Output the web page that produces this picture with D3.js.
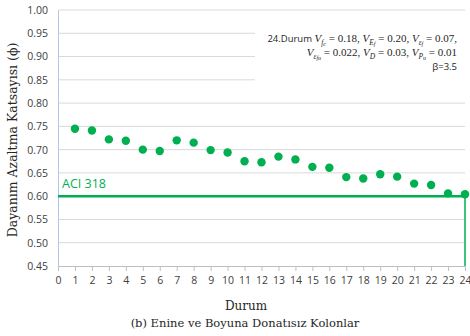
<!DOCTYPE html>
<html>
<head>
<meta charset="utf-8">
<script src="https://cdn.jsdelivr.net/npm/d3@7"></script>
<style>
  html, body { margin: 0; padding: 0; background: #fff; }
  svg { display: block; }
</style>
</head>
<body>
<svg id="chart" width="470" height="336"></svg>
<script>
// Durum numbers (cases) and their strength reduction factors
const durum = [1, 2, 3, 4, 5, 6, 7, 8, 9, 10, 11, 12, 13, 14, 15, 16, 17, 18, 19, 20, 21, 22, 23, 24];
const phi = [0.745, 0.741, 0.722, 0.719, 0.700, 0.697, 0.720, 0.715, 0.699, 0.694,
             0.675, 0.673, 0.685, 0.679, 0.663, 0.661, 0.641, 0.638, 0.647, 0.642,
             0.627, 0.624, 0.606, 0.604];
const xTicks = d3.range(0, 25, 1);
const yTicks = [0.45, 0.50, 0.55, 0.60, 0.65, 0.70, 0.75, 0.80, 0.85, 0.90, 0.95, 1.00];
const aciLimit = 0.60;
const aciLabel = "ACI 318";
const lastCase = 24;

const svg = d3.select("#chart");
const m = { left: 58, right: 465, top: 10, bottom: 266 };

const x = d3.scaleLinear().domain([0, 24]).range([m.left, m.right]);
const y = d3.scaleLinear().domain([0.45, 1.00]).range([m.bottom, m.top]);

const green = "#00b050";
const sans = "'Open Sans', 'Noto Sans', sans-serif";
const serif = "'DejaVu Serif', 'Liberation Serif', serif";

// horizontal gridlines
svg.append("g")
  .selectAll("line")
  .data(yTicks.filter(v => v > 0.45))
  .join("line")
  .attr("x1", m.left).attr("x2", m.right)
  .attr("y1", d => y(d)).attr("y2", d => y(d))
  .attr("stroke", "#d9d9d9").attr("stroke-width", 1);

// y axis
const yAxis = svg.append("g")
  .attr("transform", `translate(${m.left},0)`)
  .call(d3.axisLeft(y).tickValues(yTicks).tickFormat(d3.format(".2f")).tickSize(0).tickPadding(10));
yAxis.select(".domain").attr("stroke", "#b4c7e7");
yAxis.selectAll("text").attr("font-family", sans).attr("font-size", 10.5).attr("fill", "#404040");

// x axis
const xAxis = svg.append("g")
  .attr("transform", `translate(0,${m.bottom})`)
  .call(d3.axisBottom(x).tickValues(xTicks).tickFormat(d3.format("d")).tickSize(5).tickSizeOuter(0).tickPadding(6));
xAxis.select(".domain").attr("stroke", "#bfbfbf");
xAxis.selectAll(".tick line").attr("stroke", "#bfbfbf");
xAxis.selectAll("text").attr("font-family", sans).attr("font-size", 10.5).attr("fill", "#404040");

// annotation block (white background hides gridlines behind it)
svg.append("rect")
  .attr("x", 255).attr("y", 28).attr("width", 212).attr("height", 56)
  .attr("fill", "#fff");

const note = svg.append("g")
  .attr("font-family", "'Liberation Serif', serif")
  .attr("font-size", 11)
  .attr("fill", "#262626")
  .attr("text-anchor", "end");

function addV(t, sub, sub2) {
  t.append("tspan").attr("font-style", "italic").text("V");
  t.append("tspan").attr("font-style", "italic").attr("font-size", 7.5).attr("dy", 2.5).text(sub);
  let back = -2.5;
  if (sub2) {
    t.append("tspan").attr("font-style", "italic").attr("font-size", 6).attr("dy", 1.5).text(sub2);
    back = -4;
  }
  return back;
}
function addVal(t, back, txt) {
  t.append("tspan").attr("dy", back).text(txt);
}

const l1 = note.append("text").attr("x", 457).attr("y", 42);
l1.append("tspan").attr("font-family", sans).attr("font-size", 9.5).text("24.Durum  ");
addVal(l1, addV(l1, "f", "c"), " = 0.18, ");
addVal(l1, addV(l1, "E", "f"), " = 0.20, ");
addVal(l1, addV(l1, "ε", "f"), " = 0.07,");

const l2 = note.append("text").attr("x", 457).attr("y", 56);
addVal(l2, addV(l2, "ε", "fu"), " = 0.022, ");
addVal(l2, addV(l2, "D"), " = 0.03, ");
addVal(l2, addV(l2, "P", "u"), " = 0.01");

note.append("text").attr("x", 457).attr("y", 70)
  .attr("font-family", sans).attr("font-size", 9.5).text("β=3.5");

// ACI 318 limit
svg.append("line")
  .attr("x1", x(lastCase)).attr("x2", x(lastCase))
  .attr("y1", y(aciLimit)).attr("y2", y(0.45))
  .attr("stroke", "#3cc47c").attr("stroke-width", 2);
svg.append("line")
  .attr("x1", m.left).attr("x2", x(lastCase))
  .attr("y1", y(aciLimit)).attr("y2", y(aciLimit))
  .attr("stroke", green).attr("stroke-width", 2.6);
svg.append("text")
  .attr("x", 62).attr("y", y(aciLimit) - 8)
  .attr("font-family", sans).attr("font-size", 12.5)
  .attr("fill", green).text(aciLabel);

// data points
svg.append("g")
  .selectAll("circle")
  .data(durum.map((d, i) => ({ d, v: phi[i] })))
  .join("circle")
  .attr("cx", p => x(p.d)).attr("cy", p => y(p.v))
  .attr("r", 4.2).attr("fill", green);

// axis titles and caption
svg.append("text")
  .attr("transform", `translate(17,${(m.top + m.bottom) / 2 + 2}) rotate(-90)`)
  .attr("text-anchor", "middle")
  .attr("font-family", serif).attr("font-size", 12.5).attr("fill", "#262626")
  .text("Dayanım Azaltma Katsayısı  (ϕ)");
svg.append("text")
  .attr("x", 246).attr("y", 310)
  .attr("text-anchor", "middle")
  .attr("font-family", serif).attr("font-size", 12).attr("fill", "#262626")
  .text("Durum");
svg.append("text")
  .attr("x", 245).attr("y", 327)
  .attr("text-anchor", "middle")
  .attr("font-family", serif).attr("font-size", 11.5).attr("fill", "#262626")
  .text("(b) Enine ve Boyuna Donatısız Kolonlar");
</script>
</body>
</html>
